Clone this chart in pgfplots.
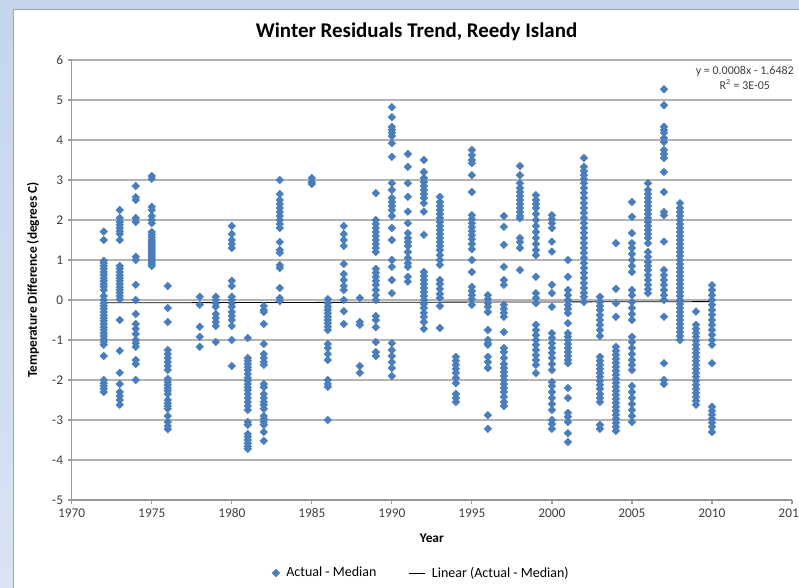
\documentclass[border=0pt]{standalone}
\usepackage{pgfplots}
\pgfplotsset{compat=1.18}
\usepackage{fontspec}
\setmainfont{Carlito}
\definecolor{frametop}{HTML}{C4D5EC}
\definecolor{framebot}{HTML}{D9E3F3}
\definecolor{markblue}{HTML}{4A7EBB}
\definecolor{gridgray}{HTML}{B3B3B3}
\definecolor{axgray}{HTML}{999999}
\definecolor{txtgray}{HTML}{404040}
\begin{document}
\begin{tikzpicture}
\path[use as bounding box] (0,0) rectangle (599.25pt,440.25pt);
\shade[top color=frametop,bottom color=framebot] (0,0) rectangle (599.25pt,440.25pt);
\draw[fill=white,draw=black!35] (9.75pt,-5pt) rectangle (620pt,433.5pt);
\begin{axis}[
  at={(53.8pt,65.25pt)}, anchor=south west,
  scale only axis, width=540.2pt, height=330pt,
  xmin=1970, xmax=2015, ymin=-5, ymax=6,
  xtick={1970,1975,...,2015}, ytick={-5,-4,...,6},
  axis lines*=left, axis line style={axgray,-, line width=0.9pt},
  tick align=outside, major tick length=3pt,
  tick style={axgray, line width=0.9pt},
  ymajorgrids, grid style={gridgray, line width=1pt},
  /pgf/number format/assume math mode=true,
  /pgf/number format/1000 sep={},
  tick label style={font=\fontsize{10}{12}\selectfont, text=txtgray},
  every axis title shift=0pt,
  title={Winter Residuals Trend, Reedy Island},
  title style={font=\bfseries\fontsize{15.7}{18}\selectfont, at={(axis description cs:0.4787,1.0636)}, anchor=center},
  xlabel={Year},
  xlabel style={font=\bfseries\fontsize{10}{12}\selectfont, at={(axis description cs:0.5,-0.0864)}, anchor=center},
  ylabel={Temperature Difference (degrees C)},
  ylabel style={font=\bfseries\fontsize{10}{12}\selectfont, at={(axis description cs:-0.0537,0.5)}, anchor=center},
  legend columns=2,
  legend style={at={(axis description cs:0.486,-0.166)}, anchor=center, draw=none, fill=none,
    font=\fontsize{10.5}{12}\selectfont,
    /tikz/every odd column/.append style={column sep=3pt},
    /tikz/every even column/.append style={column sep=22pt}},
  clip=false,
]
\addplot[only marks, mark=square*, mark size=2pt, mark options={rotate=45, fill=markblue, draw=markblue}] coordinates {
(1972,1.71)(1972,1.50)(1972,0.98)(1972,0.92)(1972,0.85)(1972,0.78)(1972,0.70)(1972,0.63)(1972,0.55)(1972,0.48)(1972,0.40)(1972,0.33)(1972,0.25)(1972,0.10)(1972,0.00)(1972,-0.08)(1972,-0.15)(1972,-0.22)(1972,-0.30)(1972,-0.38)(1972,-0.45)(1972,-0.52)(1972,-0.60)(1972,-0.68)(1972,-0.75)(1972,-0.83)(1972,-0.90)(1972,-0.98)(1972,-1.05)(1972,-1.12)(1972,-1.40)(1972,-2.00)(1972,-2.08)(1972,-2.15)(1972,-2.22)(1972,-2.30)
(1973,2.25)(1973,2.05)(1973,1.95)(1973,1.88)(1973,1.80)(1973,1.72)(1973,1.65)(1973,1.50)(1973,0.85)(1973,0.78)(1973,0.70)(1973,0.62)(1973,0.55)(1973,0.48)(1973,0.40)(1973,0.32)(1973,0.25)(1973,0.18)(1973,0.10)(1973,0.02)(1973,-0.50)(1973,-1.27)(1973,-1.82)(1973,-2.10)(1973,-2.30)(1973,-2.40)(1973,-2.50)(1973,-2.62)
(1974,2.85)(1974,2.57)(1974,2.50)(1974,2.05)(1974,1.95)(1974,1.08)(1974,1.00)(1974,0.38)(1974,0.00)(1974,-0.35)(1974,-0.60)(1974,-0.72)(1974,-0.85)(1974,-1.00)(1974,-1.08)(1974,-1.17)(1974,-1.50)(1974,-1.60)(1974,-2.00)
(1975,3.10)(1975,3.03)(1975,2.33)(1975,2.25)(1975,2.10)(1975,2.00)(1975,1.92)(1975,1.70)(1975,1.63)(1975,1.57)(1975,1.50)(1975,1.45)(1975,1.40)(1975,1.35)(1975,1.30)(1975,1.25)(1975,1.20)(1975,1.15)(1975,1.10)(1975,1.05)(1975,1.00)(1975,0.95)(1975,0.90)(1975,0.85)
(1976,0.35)(1976,-0.20)(1976,-0.55)(1976,-1.25)(1976,-1.35)(1976,-1.45)(1976,-1.55)(1976,-1.65)(1976,-1.75)(1976,-1.97)(1976,-2.05)(1976,-2.12)(1976,-2.20)(1976,-2.27)(1976,-2.35)(1976,-2.50)(1976,-2.58)(1976,-2.65)(1976,-2.72)(1976,-2.90)(1976,-3.05)(1976,-3.15)(1976,-3.23)
(1978,0.08)(1978,-0.12)(1978,-0.67)(1978,-0.92)(1978,-1.17)
(1979,0.08)(1979,0.00)(1979,-0.08)(1979,-0.17)(1979,-0.35)(1979,-0.45)(1979,-0.55)(1979,-0.65)(1979,-1.05)
(1980,1.85)(1980,1.65)(1980,1.50)(1980,1.40)(1980,1.30)(1980,0.48)(1980,0.35)(1980,0.08)(1980,0.00)(1980,-0.08)(1980,-0.17)(1980,-0.30)(1980,-0.40)(1980,-0.50)(1980,-0.65)(1980,-1.00)(1980,-1.65)
(1981,-0.95)(1981,-1.45)(1981,-1.52)(1981,-1.60)(1981,-1.68)(1981,-1.75)(1981,-1.85)(1981,-1.95)(1981,-2.02)(1981,-2.10)(1981,-2.18)(1981,-2.25)(1981,-2.35)(1981,-2.45)(1981,-2.55)(1981,-2.65)(1981,-2.75)(1981,-3.05)(1981,-3.12)(1981,-3.35)(1981,-3.42)(1981,-3.50)(1981,-3.58)(1981,-3.66)(1981,-3.72)
(1982,-0.15)(1982,-0.25)(1982,-0.30)(1982,-0.60)(1982,-1.10)(1982,-1.35)(1982,-1.45)(1982,-1.55)(1982,-1.62)(1982,-2.10)(1982,-2.18)(1982,-2.35)(1982,-2.45)(1982,-2.55)(1982,-2.62)(1982,-2.72)(1982,-2.90)(1982,-2.97)(1982,-3.05)(1982,-3.12)(1982,-3.30)(1982,-3.52)
(1983,3.00)(1983,2.65)(1983,2.50)(1983,2.40)(1983,2.30)(1983,2.20)(1983,2.10)(1983,2.00)(1983,1.90)(1983,1.80)(1983,1.45)(1983,1.25)(1983,1.18)(1983,0.87)(1983,0.80)(1983,0.30)(1983,0.05)(1983,-0.03)
(1985,3.05)(1985,2.95)(1985,2.90)
(1986,0.02)(1986,-0.08)(1986,-0.17)(1986,-0.25)(1986,-0.33)(1986,-0.42)(1986,-0.50)(1986,-0.58)(1986,-0.67)(1986,-0.75)(1986,-1.10)(1986,-1.20)(1986,-1.35)(1986,-1.50)(1986,-2.00)(1986,-2.10)(1986,-2.17)(1986,-3.00)
(1987,1.85)(1987,1.65)(1987,1.50)(1987,1.35)(1987,0.90)(1987,0.65)(1987,0.50)(1987,0.35)(1987,0.25)(1987,0.00)(1987,-0.28)(1987,-0.60)
(1988,0.05)(1988,-0.55)(1988,-0.62)(1988,-1.65)(1988,-1.82)
(1989,2.67)(1989,2.00)(1989,1.90)(1989,1.80)(1989,1.70)(1989,1.60)(1989,1.50)(1989,1.40)(1989,1.30)(1989,1.20)(1989,0.78)(1989,0.68)(1989,0.58)(1989,0.48)(1989,0.38)(1989,0.25)(1989,0.12)(1989,0.00)(1989,-0.40)(1989,-0.50)(1989,-0.68)(1989,-1.05)(1989,-1.30)(1989,-1.40)
(1990,4.82)(1990,4.57)(1990,4.33)(1990,4.25)(1990,4.18)(1990,4.10)(1990,3.92)(1990,3.58)(1990,2.92)(1990,2.75)(1990,2.55)(1990,2.45)(1990,2.35)(1990,2.25)(1990,2.10)(1990,1.80)(1990,1.50)(1990,1.00)(1990,0.83)(1990,0.50)(1990,0.17)(1990,-1.08)(1990,-1.25)(1990,-1.40)(1990,-1.55)(1990,-1.70)(1990,-1.90)
(1991,3.65)(1991,3.33)(1991,2.92)(1991,2.58)(1991,2.21)(1991,1.92)(1991,1.67)(1991,1.55)(1991,1.45)(1991,1.35)(1991,1.20)(1991,1.05)(1991,0.92)(1991,0.83)(1991,0.58)(1991,0.46)
(1992,3.50)(1992,3.20)(1992,3.05)(1992,2.95)(1992,2.85)(1992,2.75)(1992,2.65)(1992,2.55)(1992,2.42)(1992,2.21)(1992,1.63)(1992,0.70)(1992,0.60)(1992,0.50)(1992,0.40)(1992,0.30)(1992,0.20)(1992,0.10)(1992,0.00)(1992,-0.10)(1992,-0.20)(1992,-0.32)(1992,-0.42)(1992,-0.55)(1992,-0.72)
(1993,2.58)(1993,2.45)(1993,2.35)(1993,2.25)(1993,2.15)(1993,2.05)(1993,1.95)(1993,1.85)(1993,1.75)(1993,1.65)(1993,1.55)(1993,1.45)(1993,1.35)(1993,1.25)(1993,1.12)(1993,1.00)(1993,0.88)(1993,0.50)(1993,0.40)(1993,0.28)(1993,0.15)(1993,0.05)(1993,-0.15)(1993,-0.70)
(1994,-1.42)(1994,-1.52)(1994,-1.62)(1994,-1.72)(1994,-1.82)(1994,-1.95)(1994,-2.08)(1994,-2.35)(1994,-2.45)(1994,-2.55)
(1995,3.75)(1995,3.62)(1995,3.50)(1995,3.42)(1995,3.12)(1995,2.70)(1995,2.12)(1995,2.02)(1995,1.92)(1995,1.82)(1995,1.72)(1995,1.62)(1995,1.52)(1995,1.40)(1995,1.27)(1995,1.00)(1995,0.70)(1995,0.33)(1995,0.22)(1995,0.12)(1995,0.02)(1995,-0.12)
(1996,0.12)(1996,0.02)(1996,-0.08)(1996,-0.17)(1996,-0.30)(1996,-0.75)(1996,-1.00)(1996,-1.08)(1996,-1.12)(1996,-1.42)(1996,-1.55)(1996,-1.70)(1996,-2.88)(1996,-3.22)
(1997,2.10)(1997,1.83)(1997,1.38)(1997,0.83)(1997,0.50)(1997,0.38)(1997,-0.12)(1997,-0.22)(1997,-0.32)(1997,-0.42)(1997,-0.80)(1997,-1.20)(1997,-1.30)(1997,-1.45)(1997,-1.60)(1997,-1.70)(1997,-1.80)(1997,-1.90)(1997,-2.00)(1997,-2.10)(1997,-2.20)(1997,-2.30)(1997,-2.42)(1997,-2.55)(1997,-2.65)
(1998,3.35)(1998,3.12)(1998,2.92)(1998,2.80)(1998,2.70)(1998,2.60)(1998,2.50)(1998,2.40)(1998,2.30)(1998,2.20)(1998,2.10)(1998,2.04)(1998,1.55)(1998,1.45)(1998,1.30)(1998,0.75)
(1999,2.62)(1999,2.50)(1999,2.40)(1999,2.30)(1999,2.15)(1999,2.00)(1999,1.85)(1999,1.70)(1999,1.55)(1999,1.40)(1999,1.25)(1999,1.12)(1999,0.58)(1999,0.17)(1999,0.05)(1999,-0.08)(1999,-0.62)(1999,-0.75)(1999,-0.88)(1999,-1.00)(1999,-1.12)(1999,-1.25)(1999,-1.38)(1999,-1.50)(1999,-1.62)(1999,-1.83)
(2000,2.12)(2000,2.02)(2000,1.92)(2000,1.80)(2000,1.46)(2000,1.21)(2000,0.38)(2000,0.17)(2000,-0.17)(2000,-0.83)(2000,-0.95)(2000,-1.08)(2000,-1.20)(2000,-1.32)(2000,-1.45)(2000,-1.60)(2000,-1.75)(2000,-2.05)(2000,-2.15)(2000,-2.30)(2000,-2.45)(2000,-2.60)(2000,-2.75)(2000,-3.00)(2000,-3.10)(2000,-3.22)
(2001,1.00)(2001,0.58)(2001,0.25)(2001,0.12)(2001,0.00)(2001,-0.12)(2001,-0.22)(2001,-0.33)(2001,-0.58)(2001,-0.83)(2001,-0.92)(2001,-1.00)(2001,-1.10)(2001,-1.20)(2001,-1.30)(2001,-1.40)(2001,-1.50)(2001,-1.58)(2001,-2.20)(2001,-2.45)(2001,-2.82)(2001,-2.92)(2001,-3.05)(2001,-3.33)(2001,-3.55)
(2002,3.55)(2002,3.33)(2002,3.22)(2002,3.12)(2002,3.02)(2002,2.92)(2002,2.80)(2002,2.68)(2002,2.55)(2002,2.42)(2002,2.30)(2002,2.18)(2002,2.05)(2002,1.92)(2002,1.80)(2002,1.68)(2002,1.55)(2002,1.42)(2002,1.30)(2002,1.18)(2002,1.05)(2002,0.92)(2002,0.80)(2002,0.68)(2002,0.55)(2002,0.42)(2002,0.30)(2002,0.18)(2002,0.08)(2002,-0.05)
(2003,0.08)(2003,-0.05)(2003,-0.15)(2003,-0.25)(2003,-0.38)(2003,-0.50)(2003,-0.62)(2003,-0.75)(2003,-0.90)(2003,-1.42)(2003,-1.52)(2003,-1.62)(2003,-1.72)(2003,-1.82)(2003,-1.92)(2003,-2.02)(2003,-2.12)(2003,-2.22)(2003,-2.35)(2003,-2.45)(2003,-2.55)(2003,-3.12)(2003,-3.22)
(2004,1.42)(2004,0.28)(2004,-0.08)(2004,-0.42)(2004,-1.17)(2004,-1.27)(2004,-1.37)(2004,-1.47)(2004,-1.57)(2004,-1.67)(2004,-1.77)(2004,-1.87)(2004,-1.97)(2004,-2.07)(2004,-2.17)(2004,-2.27)(2004,-2.37)(2004,-2.47)(2004,-2.57)(2004,-2.67)(2004,-2.77)(2004,-2.87)(2004,-2.97)(2004,-3.07)(2004,-3.17)(2004,-3.27)
(2005,2.45)(2005,2.08)(2005,1.67)(2005,1.42)(2005,1.30)(2005,1.15)(2005,1.00)(2005,0.85)(2005,0.70)(2005,0.25)(2005,0.12)(2005,-0.05)(2005,-0.20)(2005,-0.35)(2005,-0.50)(2005,-0.92)(2005,-1.05)(2005,-1.20)(2005,-1.35)(2005,-1.50)(2005,-1.62)(2005,-1.75)(2005,-2.15)(2005,-2.30)(2005,-2.45)(2005,-2.60)(2005,-2.75)(2005,-2.90)(2005,-3.05)
(2006,2.92)(2006,2.75)(2006,2.65)(2006,2.55)(2006,2.45)(2006,2.35)(2006,2.25)(2006,2.15)(2006,2.05)(2006,1.95)(2006,1.85)(2006,1.75)(2006,1.65)(2006,1.55)(2006,1.42)(2006,1.20)(2006,1.08)(2006,0.95)(2006,0.85)(2006,0.75)(2006,0.62)(2006,0.50)(2006,0.38)(2006,0.27)(2006,0.17)
(2007,5.27)(2007,4.87)(2007,4.33)(2007,4.25)(2007,4.18)(2007,4.05)(2007,3.95)(2007,3.75)(2007,3.65)(2007,3.55)(2007,3.20)(2007,2.70)(2007,2.20)(2007,2.12)(2007,1.46)(2007,0.75)(2007,0.62)(2007,0.50)(2007,0.38)(2007,0.25)(2007,0.12)(2007,0.00)(2007,-0.42)(2007,-1.58)(2007,-2.00)(2007,-2.10)
(2008,2.42)(2008,2.30)(2008,2.20)(2008,2.10)(2008,2.00)(2008,1.90)(2008,1.80)(2008,1.70)(2008,1.60)(2008,1.50)(2008,1.40)(2008,1.30)(2008,1.20)(2008,1.10)(2008,1.00)(2008,0.90)(2008,0.80)(2008,0.70)(2008,0.60)(2008,0.50)(2008,0.40)(2008,0.30)(2008,0.20)(2008,0.10)(2008,0.00)(2008,-0.10)(2008,-0.20)(2008,-0.30)(2008,-0.40)(2008,-0.50)(2008,-0.60)(2008,-0.70)(2008,-0.80)(2008,-0.90)(2008,-1.00)
(2009,-0.29)(2009,-0.62)(2009,-0.72)(2009,-0.82)(2009,-0.92)(2009,-1.02)(2009,-1.12)(2009,-1.22)(2009,-1.32)(2009,-1.42)(2009,-1.52)(2009,-1.62)(2009,-1.72)(2009,-1.82)(2009,-1.92)(2009,-2.02)(2009,-2.12)(2009,-2.22)(2009,-2.32)(2009,-2.42)(2009,-2.52)(2009,-2.62)
(2010,0.37)(2010,0.25)(2010,0.12)(2010,0.00)(2010,-0.12)(2010,-0.25)(2010,-0.37)(2010,-0.50)(2010,-0.62)(2010,-0.75)(2010,-0.87)(2010,-1.00)(2010,-1.12)(2010,-1.58)(2010,-2.67)(2010,-2.77)(2010,-2.87)(2010,-2.97)(2010,-3.07)(2010,-3.17)(2010,-3.30)
};
\addlegendentry{Actual - Median}
\addplot[black, line width=0.6pt, legend image code/.code={\draw[black, line width=0.6pt] (0cm,0cm) -- (0.42cm,0cm);}] coordinates {(1972,-0.0706)(2010,-0.0402)};
\addlegendentry{Linear (Actual - Median)}
\node[align=center, font=\fontsize{9}{11}\selectfont, text=txtgray, inner sep=0pt] at (axis cs:2012.05,5.55) {y = 0.0008x - 1.6482\\R\textsuperscript{2} = 3E-05};
\end{axis}
\end{tikzpicture}
\end{document}
